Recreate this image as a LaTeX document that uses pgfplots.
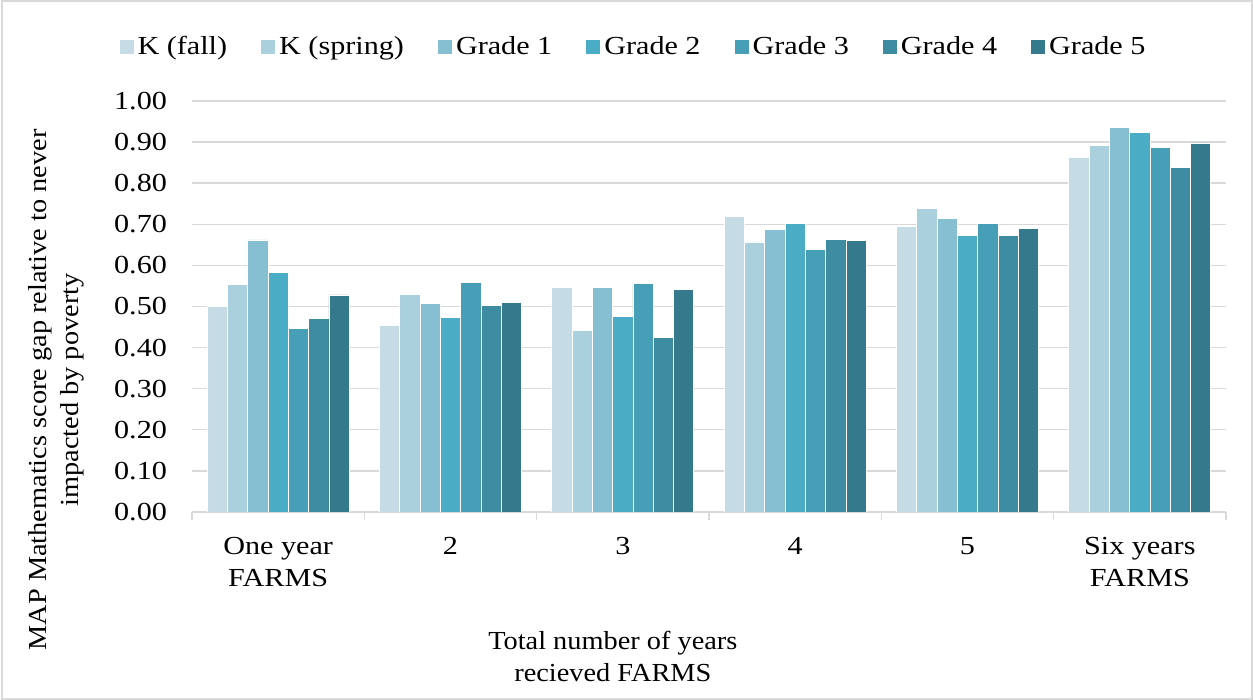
\documentclass[border=0pt]{standalone}
\usepackage{fontspec}
\setmainfont[FakeStretch=1.16]{Liberation Serif}
\newfontfamily\labelfont[FakeStretch=1.09]{Liberation Serif}
\usepackage{pgfplots}
\pgfplotsset{compat=1.18}

\definecolor{kfall}{HTML}{C5DCE6}
\definecolor{kspring}{HTML}{AACFDD}
\definecolor{gone}{HTML}{86BFD1}
\definecolor{gtwo}{HTML}{4BACC6}
\definecolor{gthree}{HTML}{469FB6}
\definecolor{gfour}{HTML}{3D8CA1}
\definecolor{gfive}{HTML}{347A8C}
\definecolor{gridgray}{HTML}{D9D9D9}

\begin{document}
\fontsize{13pt}{16pt}\selectfont
\begin{tikzpicture}
\begin{axis}[
  at={(0,0)}, anchor=south west,
  scale only axis,
  width=517pt, height=205.5pt,
  ybar=0pt, bar width=10.15pt,
  xmin=-0.5, xmax=5.5,
  ymin=0, ymax=1,
  ytick={0,0.1,...,1.0},
  yticklabel style={/pgf/number format/fixed,/pgf/number format/precision=2,/pgf/number format/fixed zerofill, xshift=-8pt},
  /pgf/number format/assume math mode=true,
  xtick={0,1,2,3,4,5},
  xticklabels={{One year\\FARMS},2,3,4,5,{Six years\\FARMS}},
  xticklabel style={align=center, yshift=-8pt},
  minor xtick={-0.5,0.5,...,5.5},
  major tick length=0pt,
  minor tick length=4pt,
  xtick align=outside,
  tick style={gridgray, line width=0.8pt},
  ymajorgrids,
  grid style={gridgray, line width=0.7pt},
  axis x line*=bottom, axis y line*=left,
  y axis line style={draw=none},
  x axis line style={gridgray, line width=0.8pt},
  every tick label/.append style={font=\fontsize{13pt}{16pt}\selectfont},
  xlabel={Total number of years\\recieved FARMS},
  xlabel style={align=center, font=\labelfont\fontsize{13pt}{16pt}\selectfont,
    at={(axis description cs:0.407,0)}, anchor=center, yshift=-72pt},
  ylabel={MAP Mathematics score gap relative to never\\impacted by poverty},
  ylabel style={align=center, font=\labelfont\fontsize{13pt}{16pt}\selectfont,
    at={(axis description cs:-0.1315,0.297)}, anchor=center},
  legend style={at={(0.428,1.131)}, anchor=center, draw=none, fill=none,
    legend columns=7, font=\fontsize{13pt}{16pt}\selectfont,
    /tikz/every even column/.append style={column sep=15pt},
    legend cell align=left},
  legend image code/.code={\path[#1,draw=none] (0pt,-3.5pt) rectangle (7pt,3.5pt);},
  every axis plot/.append style={draw=white, line width=0.4pt},
]
\addplot[fill=kfall]   coordinates {(0,0.500) (1,0.454) (2,0.547) (3,0.720) (4,0.695) (5,0.862)};
\addplot[fill=kspring] coordinates {(0,0.554) (1,0.530) (2,0.441) (3,0.657) (4,0.739) (5,0.892)};
\addplot[fill=gone]    coordinates {(0,0.662) (1,0.508) (2,0.546) (3,0.688) (4,0.714) (5,0.935)};
\addplot[fill=gtwo]    coordinates {(0,0.583) (1,0.473) (2,0.476) (3,0.703) (4,0.672) (5,0.924)};
\addplot[fill=gthree]  coordinates {(0,0.446) (1,0.558) (2,0.556) (3,0.639) (4,0.703) (5,0.886)};
\addplot[fill=gfour]   coordinates {(0,0.472) (1,0.502) (2,0.425) (3,0.664) (4,0.673) (5,0.838)};
\addplot[fill=gfive]   coordinates {(0,0.528) (1,0.509) (2,0.541) (3,0.660) (4,0.689) (5,0.898)};
\legend{K (fall),K (spring),Grade 1,Grade 2,Grade 3,Grade 4,Grade 5}
\end{axis}
\draw[gridgray, line width=0.8pt] (-95pt,-93.5pt) rectangle (530pt,255.5pt);
\pgfresetboundingbox
\path[use as bounding box] (-96pt,-94pt) rectangle (530.5pt,256pt);
\end{tikzpicture}
\end{document}
